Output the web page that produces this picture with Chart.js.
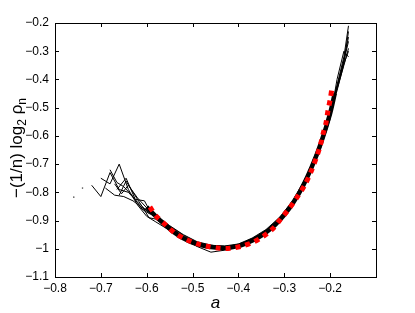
<!DOCTYPE html>
<html>
<head>
<meta charset="utf-8">
<script src="https://cdn.jsdelivr.net/npm/chart.js@4/dist/chart.umd.min.js"></script>
<style>
  html, body { margin: 0; padding: 0; background: #fff; }
  #wrap { width: 415px; height: 313px; }
</style>
</head>
<body>
<div id="wrap"><canvas id="myChart" width="415" height="313"></canvas></div>
<script>
// tick values
const xTicks = [-0.8, -0.7, -0.6, -0.5, -0.4, -0.3, -0.2, -0.1];
const yTicks = [-1.1, -1, -0.9, -0.8, -0.7, -0.6, -0.5, -0.4, -0.3, -0.2];

// red dotted curve
const redX = [-0.593, -0.579, -0.559, -0.539, -0.513, -0.491, -0.469, -0.44, -0.418, -0.393, -0.367, -0.346, -0.327, -0.309, -0.291, -0.273, -0.255, -0.24, -0.229, -0.222, -0.215, -0.209, -0.205, -0.2, -0.196];
const redY = [-0.852, -0.885, -0.915, -0.944, -0.968, -0.982, -0.991, -0.998, -0.998, -0.991, -0.976, -0.956, -0.932, -0.897, -0.861, -0.82, -0.773, -0.72, -0.672, -0.637, -0.59, -0.554, -0.513, -0.472, -0.43];

// thick black curve
const thickX = [-0.6, -0.58, -0.56, -0.54, -0.52, -0.5, -0.48, -0.46, -0.44, -0.42, -0.4, -0.38, -0.36, -0.34, -0.32, -0.3, -0.28, -0.26, -0.24, -0.22, -0.2, -0.19];
const thickY = [-0.852, -0.885, -0.915, -0.942, -0.963, -0.978, -0.988, -0.994, -0.997, -0.996, -0.99, -0.978, -0.963, -0.942, -0.915, -0.88, -0.835, -0.78, -0.71, -0.625, -0.52, -0.45];

// thin lines: noisy left part, then a shared x grid
const midX = [-0.58, -0.55, -0.52, -0.49, -0.46, -0.43, -0.4, -0.37, -0.34, -0.31, -0.28, -0.25, -0.22, -0.2, -0.185, -0.17, -0.16];

const left1X = [-0.72, -0.7, -0.68, -0.66, -0.64, -0.62, -0.6];
const left1Y = [-0.775, -0.815, -0.73, -0.79, -0.8, -0.835, -0.865];
const mid1Y = [-0.89, -0.925, -0.958, -0.98, -0.992, -0.995, -0.986, -0.966, -0.936, -0.893, -0.83, -0.742, -0.62, -0.515, -0.425, -0.335, -0.265];

const left2X = [-0.7, -0.68, -0.66, -0.64, -0.62, -0.6];
const left2Y = [-0.75, -0.77, -0.7, -0.79, -0.845, -0.885];
const mid2Y = [-0.905, -0.935, -0.965, -0.992, -1.012, -1.005, -0.992, -0.975, -0.948, -0.905, -0.842, -0.755, -0.64, -0.54, -0.4, -0.3, -0.32];

const left3X = [-0.68, -0.665, -0.65, -0.63, -0.61, -0.595];
const left3Y = [-0.72, -0.765, -0.78, -0.815, -0.86, -0.875];
const mid3Y = [-0.885, -0.92, -0.952, -0.977, -0.988, -0.99, -0.983, -0.962, -0.932, -0.888, -0.826, -0.738, -0.615, -0.51, -0.42, -0.32, -0.21];

const left4X = [-0.66, -0.645, -0.63, -0.61, -0.595];
const left4Y = [-0.81, -0.76, -0.8, -0.85, -0.89];
const mid4Y = [-0.895, -0.93, -0.962, -0.985, -0.997, -1, -0.993, -0.972, -0.944, -0.9, -0.838, -0.75, -0.628, -0.522, -0.43, -0.33, -0.25];

const left5X = [-0.665, -0.645, -0.625, -0.605, -0.59];
const left5Y = [-0.79, -0.75, -0.825, -0.83, -0.875];
const mid5Y = [-0.89, -0.928, -0.96, -0.983, -0.995, -0.998, -0.99, -0.97, -0.94, -0.896, -0.834, -0.746, -0.622, -0.518, -0.432, -0.34, -0.23];

const left6X = [-0.67, -0.655, -0.64, -0.62, -0.6];
const left6Y = [-0.77, -0.805, -0.775, -0.82, -0.855];
const mid6Y = [-0.882, -0.918, -0.95, -0.975, -0.987, -0.992, -0.985, -0.965, -0.935, -0.892, -0.83, -0.744, -0.62, -0.52, -0.435, -0.35, -0.29];

const left7X = [-0.69, -0.67, -0.65, -0.63, -0.61];
const left7Y = [-0.785, -0.81, -0.815, -0.83, -0.855];
const mid7Y = [-0.887, -0.924, -0.956, -0.98, -0.992, -0.996, -0.989, -0.968, -0.938, -0.895, -0.833, -0.748, -0.625, -0.52, -0.44, -0.345, -0.3];

// stray dots
const dotX = [-0.759, -0.74];
const dotY = [-0.817, -0.785];

function pts(xs, ys) {
	let out = [];
	for (let i = 0; i < xs.length; i++) {
		out.push({ x: xs[i], y: ys[i] });
	}
	return out;
}

const thin = [
	[left1X, left1Y, mid1Y],
	[left2X, left2Y, mid2Y],
	[left3X, left3Y, mid3Y],
	[left4X, left4Y, mid4Y],
	[left5X, left5Y, mid5Y],
	[left6X, left6Y, mid6Y],
	[left7X, left7Y, mid7Y]
];

let datasets = [];

datasets.push({
	data: pts(redX, redY),
	borderColor: '#ff0000',
	borderWidth: 5,
	borderDash: [5, 5],
	pointRadius: 0,
	tension: 0.3,
	order: 0
});

datasets.push({
	data: pts(thickX, thickY),
	borderColor: '#000',
	borderWidth: 4.5,
	pointRadius: 0,
	tension: 0.3,
	order: 1
});

for (let i = 0; i < thin.length; i++) {
	let t = thin[i];
	datasets.push({
		data: pts(t[0], t[1]).concat(pts(midX, t[2])),
		borderColor: '#000',
		borderWidth: 1,
		pointRadius: 0,
		order: 2
	});
}

datasets.push({
	data: pts(dotX, dotY),
	showLine: false,
	pointRadius: 0.8,
	pointBackgroundColor: '#555',
	pointBorderWidth: 0,
	order: 3
});

function fmt(v) {
	let s = (Math.round(v * 10) / 10).toString();
	return s.replace('-', '\u2212');
}

// box and inward ticks like MATLAB, plus the y title with real subscripts
const boxPlugin = {
	id: 'box',
	afterDraw(chart) {
		const c = chart.ctx;
		const a = chart.chartArea;
		const xs = chart.scales.x;
		const ys = chart.scales.y;
		c.save();
		c.strokeStyle = '#000';
		c.lineWidth = 1;
		c.strokeRect(Math.round(a.left) + 0.5, Math.round(a.top) + 0.5, Math.round(a.right - a.left), Math.round(a.bottom - a.top));
		c.beginPath();
		xTicks.forEach(function(v) {
			let px = Math.round(xs.getPixelForValue(v)) + 0.5;
			c.moveTo(px, a.bottom);
			c.lineTo(px, a.bottom - 4);
			c.moveTo(px, a.top);
			c.lineTo(px, a.top + 4);
		});
		yTicks.forEach(function(v) {
			let py = Math.round(ys.getPixelForValue(v)) + 0.5;
			c.moveTo(a.left, py);
			c.lineTo(a.left + 4, py);
			c.moveTo(a.right, py);
			c.lineTo(a.right - 4, py);
		});
		c.stroke();

		// y title
		const big = '17px "Liberation Sans", Arial, sans-serif';
		const small = '12px "Liberation Sans", Arial, sans-serif';
		const parts = [
			['\u2212(1/n) log', big, 0],
			['2', small, 4],
			[' \u03c1', big, 0],
			['n', small, 4]
		];
		let total = 0;
		parts.forEach(function(p) { c.font = p[1]; total += c.measureText(p[0]).width; });
		c.fillStyle = '#000';
		c.textBaseline = 'alphabetic';
		c.translate(22, 148 + total / 2);
		c.rotate(-Math.PI / 2);
		let pos = 0;
		parts.forEach(function(p) {
			c.font = p[1];
			c.fillText(p[0], pos, p[2]);
			pos += c.measureText(p[0]).width;
		});
		c.restore();
	}
};

const ctx = document.getElementById('myChart');

new Chart(ctx, {
	type: 'line',
	data: { datasets: datasets },
	plugins: [boxPlugin],
	options: {
		responsive: false,
		animation: false,
		layout: { padding: { left: 0, right: 39, top: 23, bottom: 0 } },
		plugins: {
			legend: { display: false },
			tooltip: { enabled: false }
		},
		scales: {
			x: {
				type: 'linear',
				min: -0.8,
				max: -0.1,
				afterBuildTicks: function(s) { s.ticks = xTicks.map(function(v) { return { value: v }; }); },
				afterFit: function(s) { s.height = 36; },
				grid: { display: false },
				border: { display: false },
				ticks: {
					color: '#000',
					padding: -4,
					maxRotation: 0,
					font: { family: 'Liberation Sans, Arial, sans-serif', size: 12 },
					callback: function(v) { return v > -0.15 ? '' : fmt(v); }
				},
				title: {
					display: true,
					text: 'a',
					color: '#000',
					padding: { top: -1, bottom: 0 },
					font: { family: 'Liberation Sans, Arial, sans-serif', size: 17, style: 'italic' }
				}
			},
			y: {
				min: -1.1,
				max: -0.2,
				afterBuildTicks: function(s) { s.ticks = yTicks.map(function(v) { return { value: v }; }); },
				afterFit: function(s) { s.width = 55; },
				grid: { display: false },
				border: { display: false },
				ticks: {
					color: '#000',
					padding: -2,
					font: { family: 'Liberation Sans, Arial, sans-serif', size: 12 },
					callback: function(v) { return fmt(v); }
				}
			}
		}
	}
});
</script>
</body>
</html>
